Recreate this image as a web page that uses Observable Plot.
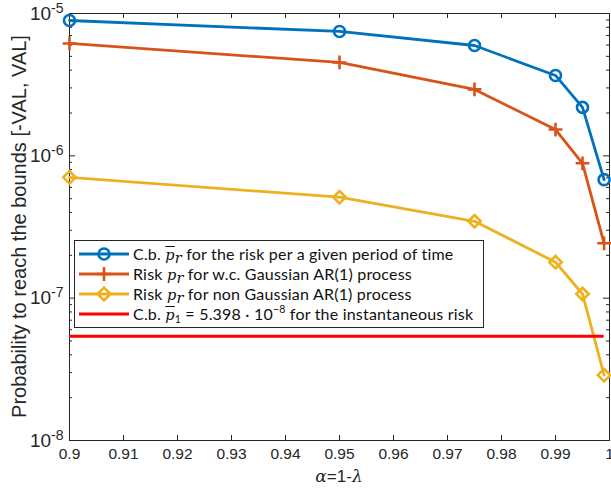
<!DOCTYPE html>
<html><head><meta charset="utf-8">
<script src="https://cdn.jsdelivr.net/npm/d3@7"></script>
<script src="https://cdn.jsdelivr.net/npm/@observablehq/plot@0.6"></script>
<style>
body{margin:0;background:#fff;}
#wrap{position:relative;width:611px;height:490px;}
#legend{position:absolute;left:74px;top:240px;width:408px;height:86px;background:#fff;border:1px solid #262626;font-family:Lato,"Liberation Sans",sans-serif;font-size:16px;letter-spacing:0.2px;color:#111;}
.row{position:absolute;left:0;height:20px;width:100%;}
.row svg{position:absolute;left:0;top:0;}
.row .t{position:absolute;left:58px;top:0px;white-space:nowrap;line-height:19px;}
.p{font-style:italic;font-family:"DejaVu Serif","Liberation Serif",serif;font-size:14.5px;}
.ol{text-decoration:overline;}
sub{font-size:10.5px;vertical-align:-3px;line-height:0;}
sup{font-size:10.5px;vertical-align:7px;line-height:0;}
</style></head><body><div id="wrap"></div>
<script>
// ---- data ----
const alphas = [0.9, 0.95, 0.975, 0.99, 0.995, 0.999];
const cbPeriod = [8.93e-6, 7.48e-6, 5.96e-6, 3.67e-6, 2.19e-6, 6.8e-7];
const gaussAR = [6.16e-6, 4.53e-6, 2.93e-6, 1.53e-6, 8.86e-7, 2.43e-7];
const nonGaussAR = [7.06e-7, 5.12e-7, 3.47e-7, 1.79e-7, 1.07e-7, 2.88e-8];
const cbInstant = 5.398e-8;
const xTicks = [0.9, 0.91, 0.92, 0.93, 0.94, 0.95, 0.96, 0.97, 0.98, 0.99, 1];
const xTickLabels = ["0.9","0.91","0.92","0.93","0.94","0.95","0.96","0.97","0.98","0.99","1"];
const yMajor = [1e-8, 1e-7, 1e-6, 1e-5];
const yTickLabels = ["-8", "-7", "-6", "-5"];
const yMinorMult = [2, 3, 4, 5, 6, 7, 8, 9];
const yMinor = yMajor.slice(0, -1).flatMap(d => yMinorMult.map(m => d * m));
const xLabel = "α=1-λ";
const yLabel = "Probability to reach the bounds [-VAL, VAL]";

const colors = {blue: "#0072BD", orange: "#D95319", yellow: "#EDB120", red: "#FF0000"};
const axisColor = "#262626";
const W = 611, H = 490, mL = 69, mR = 2, mT = 13, mB = 50;
const plotW = W - mL - mR, plotH = H - mT - mB;
const lw = 2.8;

const plot = Plot.plot({
  width: W, height: H, marginLeft: mL, marginRight: mR, marginTop: mT, marginBottom: mB,
  style: {fontFamily: "'Liberation Sans', Arial, sans-serif", background: "white", color: axisColor, overflow: "visible"},
  x: {domain: [xTicks[0], xTicks[xTicks.length - 1]]},
  y: {type: "log", domain: [yMajor[0], yMajor[yMajor.length - 1]]},
  marks: [
    Plot.frame({stroke: axisColor, strokeWidth: 1}),
    Plot.tickX(xTicks, {x: d => d, stroke: axisColor, insetTop: plotH - 5}),
    Plot.tickX(xTicks, {x: d => d, stroke: axisColor, insetBottom: plotH - 5}),
    Plot.tickY(yMajor, {y: d => d, stroke: axisColor, insetRight: plotW - 6}),
    Plot.tickY(yMajor, {y: d => d, stroke: axisColor, insetLeft: plotW - 6}),
    Plot.tickY(yMinor, {y: d => d, stroke: axisColor, insetRight: plotW - 3}),
    Plot.tickY(yMinor, {y: d => d, stroke: axisColor, insetLeft: plotW - 3}),
    Plot.axisX({ticks: xTicks, tickSize: 0, tickPadding: 7, fontSize: 15.5, label: null,
      tickFormat: d => xTickLabels[xTicks.indexOf(d)]}),
    Plot.axisY({ticks: yMajor, tickSize: 0, tickPadding: 6, fontSize: 19, label: null,
      tickFormat: d => "10^" + yTickLabels[yMajor.indexOf(d)]}),
    Plot.line(alphas, {x: d => d, y: (d, i) => cbPeriod[i], stroke: colors.blue, strokeWidth: lw}),
    Plot.dot(alphas, {x: d => d, y: (d, i) => cbPeriod[i], stroke: colors.blue, strokeWidth: 2.6, r: 5.5, symbol: "circle", fill: "none"}),
    Plot.line(alphas, {x: d => d, y: (d, i) => gaussAR[i], stroke: colors.orange, strokeWidth: lw}),
    Plot.dot(alphas, {x: d => d, y: (d, i) => gaussAR[i], stroke: colors.orange, strokeWidth: 2.6, r: 4.5, symbol: "plus"}),
    Plot.line(alphas, {x: d => d, y: (d, i) => nonGaussAR[i], stroke: colors.yellow, strokeWidth: lw}),
    Plot.dot(alphas, {x: d => d, y: (d, i) => nonGaussAR[i], stroke: colors.yellow, strokeWidth: 2.6, r: 5.6, symbol: "diamond2", fill: "none"}),
    Plot.ruleY([cbInstant], {x1: alphas[0], x2: alphas[alphas.length - 1], stroke: colors.red, strokeWidth: 3})
  ]
});

// superscript exponents on y tick labels
d3.select(plot).selectAll('g[aria-label="y-axis tick label"] text').each(function() {
  const t = d3.select(this);
  const parts = t.text().split("^");
  t.text(null);
  t.append("tspan").text(parts[0]);
  t.append("tspan").attr("font-size", 14).attr("dy", "-0.5em").text(parts[1]);
});

const svg = d3.select(plot);
svg.append("text")
  .attr("transform", `translate(19,${mT + plotH / 2}) rotate(-90)`)
  .attr("text-anchor", "middle").attr("dy", "0.35em")
  .attr("font-size", 20).attr("fill", axisColor)
  .text(yLabel);
const xl = svg.append("text")
  .attr("x", mL + plotW / 2).attr("y", H - 8)
  .attr("text-anchor", "middle").attr("font-size", 17).attr("fill", axisColor);
xl.append("tspan").attr("font-family", "'DejaVu Serif', serif").attr("font-style", "italic").text(xLabel[0]);
xl.append("tspan").text(xLabel.slice(1, -1));
xl.append("tspan").attr("font-family", "'DejaVu Serif', serif").attr("font-style", "italic").text(xLabel.slice(-1));

const wrap = document.getElementById("wrap");
wrap.appendChild(plot);

// legend
const legendItems = [
  {color: colors.blue, sym: "circle", html: 'C.b. <span class="p ol">p</span><sub class="p">r</sub> for the risk per a given period of time'},
  {color: colors.orange, sym: "plus", html: 'Risk <span class="p">p</span><sub class="p">r</sub> for w.c. Gaussian AR(1) process'},
  {color: colors.yellow, sym: "diamond", html: 'Risk <span class="p">p</span><sub class="p">r</sub> for non Gaussian AR(1) process'},
  {color: colors.red, sym: null, html: 'C.b. <span class="p ol">p</span><sub>1</sub> = 5.398 · 10<sup>−8</sup> for the instantaneous risk'}
];
const leg = document.createElement("div");
leg.id = "legend";
legendItems.forEach((it, i) => {
  const row = document.createElement("div");
  row.className = "row";
  row.style.top = (3 + i * 20) + "px";
  let m = "";
  if (it.sym === "circle") m = `<circle cx="29" cy="10" r="5.5" fill="none" stroke="${it.color}" stroke-width="2.6"/>`;
  if (it.sym === "plus") m = `<path d="M29,3V17M22,10H36" stroke="${it.color}" stroke-width="2.6"/>`;
  if (it.sym === "diamond") m = `<path d="M29,3.5L35.5,10L29,16.5L22.5,10Z" fill="none" stroke="${it.color}" stroke-width="2.6"/>`;
  row.innerHTML = `<svg width="58" height="20"><line x1="4" x2="54" y1="10" y2="10" stroke="${it.color}" stroke-width="${it.sym ? lw : 3}"/>${m}</svg><span class="t">${it.html}</span>`;
  leg.appendChild(row);
});
wrap.appendChild(leg);
</script>
</body></html>
